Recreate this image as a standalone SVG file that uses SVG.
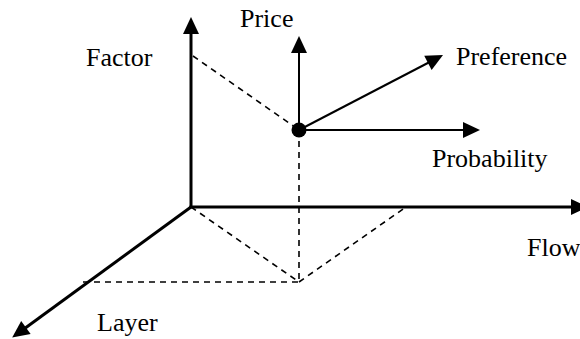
<svg xmlns="http://www.w3.org/2000/svg" width="580" height="339" viewBox="0 0 580 339">
  <style>
    .axis { stroke: #000; stroke-width: 3; fill: none; marker-end: url(#head); }
    .vec { stroke: #000; stroke-width: 2; fill: none; marker-end: url(#head); }
    .proj { stroke: #000; stroke-width: 1.6; stroke-dasharray: 6 5; fill: none; }
    .lbl { font-family: "Liberation Serif", "Times New Roman", serif; font-size: 26px; fill: #000; }
  </style>
  <defs>
    <marker id="head" markerUnits="userSpaceOnUse" markerWidth="17" markerHeight="16" refX="2" refY="8" orient="auto" overflow="visible">
      <path d="M0,0 L17,8 L0,16 Z" fill="#000"/>
    </marker>
  </defs>
  <rect width="580" height="339" fill="#fff"/>

  <g id="connectors">
    <!-- projection guides -->
    <path class="proj" d="M193,56 L299,130"/>
    <path class="proj" d="M299,130 L299,282"/>
    <path class="proj" d="M191,207 L299,282"/>
    <path class="proj" d="M83,282 L299,282"/>
    <path class="proj" d="M299,282 L406,207"/>
    <!-- main axes -->
    <path class="axis" d="M191,207 L191,32"/>
    <path class="axis" d="M189.5,207 L573,207"/>
    <path class="axis" d="M191,207 L24.3,328.7"/>
    <!-- vectors from the point -->
    <path class="vec" d="M299,130 L299,51"/>
    <path class="vec" d="M299,130 L429.7,62"/>
    <path class="vec" d="M299,130 L465,130"/>
  </g>

  <g id="point">
    <circle cx="299" cy="130" r="7.5" fill="#000"/>
  </g>

  <g id="factor"><text class="lbl" x="86" y="66">Factor</text></g>
  <g id="price"><text class="lbl" x="240" y="27">Price</text></g>
  <g id="preference"><text class="lbl" x="456" y="65">Preference</text></g>
  <g id="probability"><text class="lbl" x="432" y="167">Probability</text></g>
  <g id="flow"><text class="lbl" x="527" y="256">Flow</text></g>
  <g id="layer"><text class="lbl" x="97" y="331">Layer</text></g>
</svg>
